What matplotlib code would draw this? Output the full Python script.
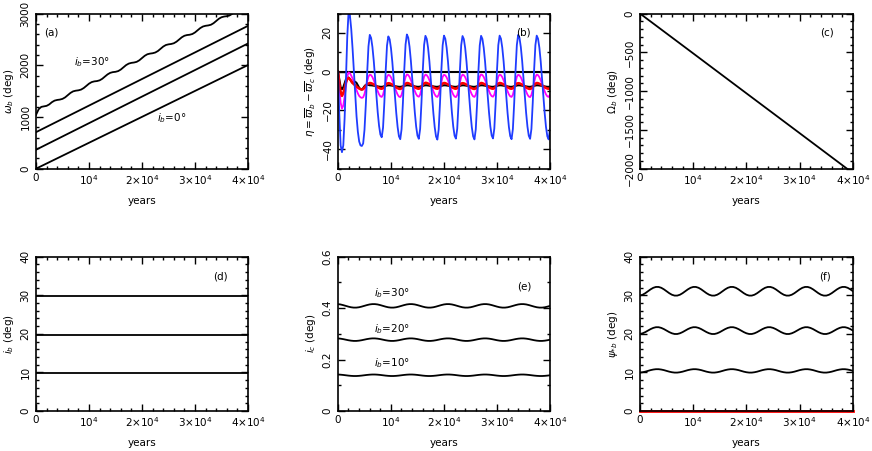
import numpy as np
import matplotlib
matplotlib.use('Agg')
import matplotlib.pyplot as plt
from matplotlib.ticker import MultipleLocator

plt.rcParams['font.family'] = ['DejaVu Sans']
plt.rcParams['mathtext.fontset'] = 'dejavusans'

# ---------------- time grids (years) ----------------
t_fine = np.arange(0, 40001, 250)
t_mid = np.arange(0, 40001, 500)
t_coarse = np.array([0, 10000, 20000, 30000, 40000])

# ---------------- panel (a): omega_b (deg) ----------------
omega_b_00 = [0, 501, 1002, 1503, 2004]
omega_b_10 = [366, 880, 1394, 1907, 2421]
omega_b_20 = [706, 1220, 1734, 2248, 2762]
omega_b_30 = [
    1040, 1150, 1195, 1205, 1215, 1243, 1286, 1316, 1329, 1336, 1350, 1379, 1422, 1465,
    1495, 1508, 1515, 1529, 1559, 1601, 1644, 1674, 1688, 1694, 1708, 1738, 1781, 1823,
    1853, 1867, 1873, 1887, 1917, 1960, 2003, 2032, 2046, 2053, 2066, 2096, 2139, 2182,
    2212, 2225, 2232, 2246, 2275, 2318, 2361, 2391, 2404, 2411, 2425, 2455, 2497, 2540,
    2570, 2584, 2590, 2604, 2634, 2677, 2719, 2749, 2763, 2770, 2783, 2813, 2856, 2899,
    2928, 2942, 2949, 2962, 2992, 3035, 3078, 3108, 3121, 3128, 3142]

# ---------------- panel (b): eta (deg) ----------------
eta_zero = [0, 0, 0, 0, 0]
eta_blue = [
    0, -22, -38, -41.5, -38, -24, -4, 18, 31, 29, 22, 12,
    0, -12, -23, -31, -36, -38, -38.3, -37, -30, -17, -1, 13,
    19, 17.4, 12.7, 5.6, -3.1, -12.3, -21.0, -27.9, -32.4, -33.8, -28.9, -15.8, 0.4, 13.5,
    18.2, 16.7, 12.1, 5.1, -3.5, -12.7, -21.4, -28.5, -33.3, -34.8, -29.6, -16.1, 0.6, 14.0,
    19.2, 17.6, 12.9, 5.7, -3.0, -12.3, -21.1, -28.3, -33.0, -34.6, -29.5, -16.0, 0.5, 13.8,
    18.5, 16.9, 12.3, 5.3, -3.3, -12.6, -21.4, -28.6, -33.4, -35.0, -29.8, -16.2, 0.4, 13.6,
    18.6, 17.0, 12.4, 5.4, -3.2, -12.4, -21.2, -28.3, -33.0, -34.5, -29.4, -16.0, 0.5, 13.7,
    18.4, 16.8, 12.2, 5.2, -3.4, -12.6, -21.4, -28.6, -33.3, -34.9, -29.7, -16.2, 0.4, 13.6,
    18.5, 16.9, 12.3, 5.3, -3.2, -12.4, -21.1, -28.2, -32.9, -34.4, -29.3, -15.9, 0.5, 13.7,
    18.6, 17.0, 12.4, 5.4, -3.3, -12.5, -21.3, -28.5, -33.2, -34.8, -29.6, -16.1, 0.5, 13.8,
    19.0, 17.4, 12.7, 5.6, -3.1, -12.4, -21.2, -28.3, -33.0, -34.6, -29.5, -16.0, 0.5, 13.7,
    18.6, 17.0, 12.4, 5.4, -3.3, -12.5, -21.3, -28.5, -33.3, -34.9, -29.7]
eta_magenta = [
    0, -8, -16, -19, -17.5, -13, -7.5, -2.5, -0.3, -0.8, -2, -3.5,
    -5.5, -7.5, -9.5, -11.2, -12.5, -13.2, -13.5, -13.2, -11.5, -8.5, -5, -2.5,
    -1.5, -1.8, -2.8, -4.4, -6.2, -8.2, -10.1, -11.7, -12.7, -13.0, -11.9, -9.0, -5.5, -2.6,
    -1.6, -1.9, -2.9, -4.5, -6.3, -8.3, -10.2, -11.8, -12.8, -13.1, -12.0, -9.1, -5.6, -2.7,
    -1.4, -1.7, -2.7, -4.3, -6.1, -8.1, -10.0, -11.6, -12.6, -12.9, -11.8, -8.9, -5.4, -2.5,
    -1.5, -1.8, -2.8, -4.4, -6.2, -8.2, -10.1, -11.7, -12.7, -13.0, -11.9, -9.0, -5.5, -2.6,
    -1.6, -1.9, -2.9, -4.5, -6.3, -8.3, -10.2, -11.8, -12.8, -13.1, -12.0, -9.1, -5.6, -2.7,
    -1.5, -1.8, -2.8, -4.4, -6.2, -8.2, -10.1, -11.7, -12.7, -13.0, -11.9, -9.0, -5.5, -2.6,
    -1.4, -1.7, -2.7, -4.3, -6.1, -8.1, -10.0, -11.6, -12.6, -12.9, -11.8, -8.9, -5.4, -2.5,
    -1.5, -1.8, -2.8, -4.4, -6.2, -8.2, -10.1, -11.7, -12.7, -13.0, -11.9, -9.0, -5.5, -2.6,
    -1.6, -1.9, -2.9, -4.5, -6.3, -8.3, -10.2, -11.8, -12.8, -13.1, -12.0, -9.1, -5.6, -2.7,
    -1.5, -1.8, -2.8, -4.4, -6.2, -8.2, -10.1, -11.7, -12.7, -13.0, -11.9]
eta_red = [
    0, -6, -10.5, -12.5, -11, -8.5, -5.5, -3.8, -3.3, -3.8, -4.8, -5.8,
    -6.5, -7.0, -7.6, -8.2, -8.7, -9.0, -9.2, -9.0, -8.2, -7.2, -6.5, -6.1,
    -5.8, -5.9, -6.2, -6.6, -7.0, -7.5, -8.0, -8.4, -8.7, -8.8, -8.5, -7.8, -6.9, -6.1,
    -5.9, -6.0, -6.3, -6.7, -7.1, -7.6, -8.1, -8.5, -8.8, -8.9, -8.6, -7.9, -7.0, -6.2,
    -5.8, -5.9, -6.2, -6.6, -7.0, -7.5, -8.0, -8.4, -8.7, -8.8, -8.5, -7.8, -6.9, -6.1,
    -5.7, -5.8, -6.1, -6.5, -7.0, -7.5, -8.0, -8.4, -8.7, -8.8, -8.5, -7.8, -6.9, -6.1,
    -5.8, -5.9, -6.2, -6.6, -7.0, -7.5, -8.0, -8.4, -8.7, -8.8, -8.5, -7.8, -6.9, -6.1,
    -5.9, -6.0, -6.3, -6.7, -7.1, -7.6, -8.1, -8.5, -8.8, -8.9, -8.6, -7.9, -7.0, -6.2,
    -5.8, -5.9, -6.2, -6.6, -7.0, -7.5, -8.0, -8.4, -8.7, -8.8, -8.5, -7.8, -6.9, -6.1,
    -5.8, -5.9, -6.2, -6.6, -7.0, -7.5, -8.0, -8.4, -8.7, -8.8, -8.5, -7.8, -6.9, -6.1,
    -5.9, -6.0, -6.3, -6.7, -7.1, -7.6, -8.1, -8.5, -8.8, -8.9, -8.6, -7.9, -7.0, -6.2,
    -5.8, -5.9, -6.2, -6.6, -7.0, -7.5, -8.0, -8.4, -8.7, -8.8, -8.5]
eta_black = [
    0, -4, -8, -9, -8, -6, -4, -3, -3, -3.8, -5, -5.8,
    -5.5, -5.2, -5.8, -7, -8.3, -9, -9.2, -8.5, -7.5, -6.8, -6.6, -6.8,
    -7.0, -7.0, -7.1, -7.2, -7.3, -7.4, -7.6, -7.7, -7.8, -7.8, -7.7, -7.5, -7.3, -7.1,
    -7.0, -7.0, -7.1, -7.2, -7.3, -7.4, -7.6, -7.7, -7.8, -7.8, -7.7, -7.5, -7.3, -7.1,
    -7.0, -7.0, -7.1, -7.2, -7.3, -7.4, -7.6, -7.7, -7.8, -7.8, -7.7, -7.5, -7.3, -7.1,
    -7.0, -7.0, -7.1, -7.2, -7.3, -7.4, -7.6, -7.7, -7.8, -7.8, -7.7, -7.5, -7.3, -7.1,
    -7.0, -7.0, -7.1, -7.2, -7.3, -7.4, -7.6, -7.7, -7.8, -7.8, -7.7, -7.5, -7.3, -7.1,
    -7.0, -7.0, -7.1, -7.2, -7.3, -7.4, -7.6, -7.7, -7.8, -7.8, -7.7, -7.5, -7.3, -7.1,
    -7.0, -7.0, -7.1, -7.2, -7.3, -7.4, -7.6, -7.7, -7.8, -7.8, -7.7, -7.5, -7.3, -7.1,
    -7.0, -7.0, -7.1, -7.2, -7.3, -7.4, -7.6, -7.7, -7.8, -7.8, -7.7, -7.5, -7.3, -7.1,
    -7.0, -7.0, -7.1, -7.2, -7.3, -7.4, -7.6, -7.7, -7.8, -7.8, -7.7, -7.5, -7.3, -7.1,
    -7.0, -7.0, -7.1, -7.2, -7.3, -7.4, -7.6, -7.7, -7.8, -7.8, -7.7]

# ---------------- panel (c): Omega_b (deg) ----------------
Omega_b = [0, -514, -1029, -1543, -2058]

# ---------------- panel (d): i_b (deg) ----------------
i_b_10 = [9.9, 9.9, 9.9, 9.9, 9.9]
i_b_20 = [19.8, 19.8, 19.8, 19.8, 19.8]
i_b_30 = [29.8, 29.8, 29.8, 29.8, 29.8]

# ---------------- panel (e): i_c (deg) ----------------
i_c_30 = [
    0.4158, 0.4145, 0.4120, 0.4090, 0.4060, 0.4035, 0.4022, 0.4022, 0.4035, 0.4060, 0.4090, 0.4120, 0.4145, 0.4158,
    0.4158, 0.4145, 0.4120, 0.4090, 0.4060, 0.4035, 0.4022, 0.4022, 0.4035, 0.4060, 0.4090, 0.4120, 0.4145, 0.4158,
    0.4158, 0.4145, 0.4120, 0.4090, 0.4060, 0.4035, 0.4022, 0.4022, 0.4035, 0.4060, 0.4090, 0.4120, 0.4145, 0.4158,
    0.4158, 0.4145, 0.4120, 0.4090, 0.4060, 0.4035, 0.4022, 0.4022, 0.4035, 0.4060, 0.4090, 0.4120, 0.4145, 0.4158,
    0.4158, 0.4145, 0.4120, 0.4090, 0.4060, 0.4035, 0.4022, 0.4022, 0.4035, 0.4060, 0.4090, 0.4120, 0.4145, 0.4158,
    0.4158, 0.4145, 0.4120, 0.4090, 0.4060, 0.4035, 0.4022, 0.4022, 0.4035, 0.4060, 0.4090]
i_c_20 = [
    0.2824, 0.2814, 0.2797, 0.2775, 0.2753, 0.2736, 0.2726, 0.2726, 0.2736, 0.2753, 0.2775, 0.2797, 0.2814, 0.2824,
    0.2824, 0.2814, 0.2797, 0.2775, 0.2753, 0.2736, 0.2726, 0.2726, 0.2736, 0.2753, 0.2775, 0.2797, 0.2814, 0.2824,
    0.2824, 0.2814, 0.2797, 0.2775, 0.2753, 0.2736, 0.2726, 0.2726, 0.2736, 0.2753, 0.2775, 0.2797, 0.2814, 0.2824,
    0.2824, 0.2814, 0.2797, 0.2775, 0.2753, 0.2736, 0.2726, 0.2726, 0.2736, 0.2753, 0.2775, 0.2797, 0.2814, 0.2824,
    0.2824, 0.2814, 0.2797, 0.2775, 0.2753, 0.2736, 0.2726, 0.2726, 0.2736, 0.2753, 0.2775, 0.2797, 0.2814, 0.2824,
    0.2824, 0.2814, 0.2797, 0.2775, 0.2753, 0.2736, 0.2726, 0.2726, 0.2736, 0.2753, 0.2775]
i_c_10 = [
    0.1419, 0.1413, 0.1403, 0.1390, 0.1377, 0.1367, 0.1361, 0.1361, 0.1367, 0.1377, 0.1390, 0.1403, 0.1413, 0.1419,
    0.1419, 0.1413, 0.1403, 0.1390, 0.1377, 0.1367, 0.1361, 0.1361, 0.1367, 0.1377, 0.1390, 0.1403, 0.1413, 0.1419,
    0.1419, 0.1413, 0.1403, 0.1390, 0.1377, 0.1367, 0.1361, 0.1361, 0.1367, 0.1377, 0.1390, 0.1403, 0.1413, 0.1419,
    0.1419, 0.1413, 0.1403, 0.1390, 0.1377, 0.1367, 0.1361, 0.1361, 0.1367, 0.1377, 0.1390, 0.1403, 0.1413, 0.1419,
    0.1419, 0.1413, 0.1403, 0.1390, 0.1377, 0.1367, 0.1361, 0.1361, 0.1367, 0.1377, 0.1390, 0.1403, 0.1413, 0.1419,
    0.1419, 0.1413, 0.1403, 0.1390, 0.1377, 0.1367, 0.1361, 0.1361, 0.1367, 0.1377, 0.1390]

# ---------------- panel (f): psi_*b (deg) ----------------
psi_00 = [0, 0, 0, 0, 0]
psi_30 = [
    29.93, 30.15, 30.55, 31.05, 31.55, 31.95, 32.17, 32.17, 31.95, 31.55, 31.05, 30.55, 30.15, 29.93,
    29.93, 30.15, 30.55, 31.05, 31.55, 31.95, 32.17, 32.17, 31.95, 31.55, 31.05, 30.55, 30.15, 29.93,
    29.93, 30.15, 30.55, 31.05, 31.55, 31.95, 32.17, 32.17, 31.95, 31.55, 31.05, 30.55, 30.15, 29.93,
    29.93, 30.15, 30.55, 31.05, 31.55, 31.95, 32.17, 32.17, 31.95, 31.55, 31.05, 30.55, 30.15, 29.93,
    29.93, 30.15, 30.55, 31.05, 31.55, 31.95, 32.17, 32.17, 31.95, 31.55, 31.05, 30.55, 30.15, 29.93,
    29.93, 30.15, 30.55, 31.05, 31.55, 31.95, 32.17, 32.17, 31.95, 31.55, 31.05]
psi_20 = [
    19.97, 20.15, 20.46, 20.85, 21.24, 21.55, 21.73, 21.73, 21.55, 21.24, 20.85, 20.46, 20.15, 19.97,
    19.97, 20.15, 20.46, 20.85, 21.24, 21.55, 21.73, 21.73, 21.55, 21.24, 20.85, 20.46, 20.15, 19.97,
    19.97, 20.15, 20.46, 20.85, 21.24, 21.55, 21.73, 21.73, 21.55, 21.24, 20.85, 20.46, 20.15, 19.97,
    19.97, 20.15, 20.46, 20.85, 21.24, 21.55, 21.73, 21.73, 21.55, 21.24, 20.85, 20.46, 20.15, 19.97,
    19.97, 20.15, 20.46, 20.85, 21.24, 21.55, 21.73, 21.73, 21.55, 21.24, 20.85, 20.46, 20.15, 19.97,
    19.97, 20.15, 20.46, 20.85, 21.24, 21.55, 21.73, 21.73, 21.55, 21.24, 20.85]
psi_10 = [
    9.96, 10.05, 10.20, 10.40, 10.60, 10.75, 10.84, 10.84, 10.75, 10.60, 10.40, 10.20, 10.05, 9.96,
    9.96, 10.05, 10.20, 10.40, 10.60, 10.75, 10.84, 10.84, 10.75, 10.60, 10.40, 10.20, 10.05, 9.96,
    9.96, 10.05, 10.20, 10.40, 10.60, 10.75, 10.84, 10.84, 10.75, 10.60, 10.40, 10.20, 10.05, 9.96,
    9.96, 10.05, 10.20, 10.40, 10.60, 10.75, 10.84, 10.84, 10.75, 10.60, 10.40, 10.20, 10.05, 9.96,
    9.96, 10.05, 10.20, 10.40, 10.60, 10.75, 10.84, 10.84, 10.75, 10.60, 10.40, 10.20, 10.05, 9.96,
    9.96, 10.05, 10.20, 10.40, 10.60, 10.75, 10.84, 10.84, 10.75, 10.60, 10.40]

x_ticks = [0, 10000, 20000, 30000, 40000]
x_ticklabels = ['0', r'$10^4$', r'$2{\times}10^4$', r'$3{\times}10^4$', r'$4{\times}10^4$']

FS = 7.5
LW = 1.3

fig = plt.figure(figsize=(8.72, 4.51), dpi=100)


def make_ax(rect, ylim, ymaj, ymin, yticklabels, ylabel, panel, plx, ply):
    ax = fig.add_axes(rect)
    ax.set_xlim(0, 40000)
    ax.set_ylim(*ylim)
    ax.set_xticks(x_ticks)
    ax.set_xticklabels(x_ticklabels)
    ax.xaxis.set_minor_locator(MultipleLocator(2000))
    yt = [float(v) for v in yticklabels[0]]
    ax.set_yticks(yt)
    ax.set_yticklabels(yticklabels[1], rotation=90, va='center')
    ax.yaxis.set_minor_locator(MultipleLocator(ymin))
    ax.tick_params(which='both', direction='in', top=True, right=True,
                   width=1.0, labelsize=FS, pad=3)
    ax.tick_params(which='major', length=5)
    ax.tick_params(which='minor', length=2.5)
    ax.tick_params(axis='y', pad=4)
    for s in ax.spines.values():
        s.set_linewidth(1.2)
    ax.set_xlabel('years', fontsize=FS, labelpad=6.5)
    ax.set_ylabel(ylabel, fontsize=FS, labelpad=3)
    ax.text(plx, ply, panel, transform=ax.transAxes, fontsize=FS,
            ha='left', va='center')
    return ax


top_b, top_h = 0.626, 0.344
bot_b, bot_h = 0.0887, 0.342

# (a)
ax = make_ax([0.0413, top_b, 0.2431, top_h], (0, 3000), 1000, 200,
             ([0, 1000, 2000, 3000], ['0', '1000', '2000', '3000']),
             r'$\omega_b$ (deg)', '(a)', 0.04, 0.875)
ax.plot(t_coarse, omega_b_00, color='k', lw=LW)
ax.plot(t_coarse, omega_b_10, color='k', lw=LW)
ax.plot(t_coarse, omega_b_20, color='k', lw=LW)
ax.plot(t_mid, omega_b_30, color='k', lw=LW)
ax.text(7100, 2067, r'$i_b$=30°', fontsize=FS, ha='left', va='center')
ax.text(22800, 977, r'$i_b$=0°', fontsize=FS, ha='left', va='center')

# (b)
ax = make_ax([0.3876, top_b, 0.2431, top_h], (-50, 30), 20, 10,
             ([-40, -20, 0, 20], ['\u221240', '\u221220', '0', '20']),
             r'$\eta=\overline{\varpi}_b-\overline{\varpi}_c$ (deg)', '(b)', 0.84, 0.88)
ax.plot(t_coarse, eta_zero, color='k', lw=1.5)
ax.plot(t_fine, eta_black, color='k', lw=1.5)
ax.plot(t_fine, eta_magenta, color='#ff00ff', lw=1.3)
ax.plot(t_fine, eta_red, color='#ff0000', lw=1.8)
ax.plot(t_fine, eta_blue, color='#1f3cff', lw=1.3)

# (c)
ax = make_ax([0.7339, top_b, 0.2443, top_h], (-2000, 0), 500, 100,
             ([-2000, -1500, -1000, -500, 0],
              ['\u22122000', '\u22121500', '\u22121000', '\u2212500', '0']),
             r'$\Omega_b$ (deg)', '(c)', 0.845, 0.88)
ax.plot(t_coarse, Omega_b, color='k', lw=LW)

# (d)
ax = make_ax([0.0413, bot_b, 0.2431, bot_h], (0, 40), 10, 2,
             ([0, 10, 20, 30, 40], ['0', '10', '20', '30', '40']),
             r'$i_b$ (deg)', '(d)', 0.835, 0.87)
ax.plot(t_coarse, i_b_10, color='k', lw=LW)
ax.plot(t_coarse, i_b_20, color='k', lw=LW)
ax.plot(t_coarse, i_b_30, color='k', lw=LW)

# (e)
ax = make_ax([0.3873, bot_b, 0.2436, bot_h], (0, 0.6), 0.2, 0.1,
             ([0, 0.2, 0.4, 0.6], ['0', '0.2', '0.4', '0.6']),
             r'$i_c$ (deg)', '(e)', 0.843, 0.81)
ax.plot(t_mid, i_c_10, color='k', lw=LW)
ax.plot(t_mid, i_c_20, color='k', lw=LW)
ax.plot(t_mid, i_c_30, color='k', lw=LW)
ax.text(6900, 0.459, r'$i_b$=30°', fontsize=FS, ha='left', va='center')
ax.text(6900, 0.320, r'$i_b$=20°', fontsize=FS, ha='left', va='center')
ax.text(6900, 0.186, r'$i_b$=10°', fontsize=FS, ha='left', va='center')

# (f)
ax = make_ax([0.7339, bot_b, 0.2443, bot_h], (0, 40), 10, 2,
             ([0, 10, 20, 30, 40], ['0', '10', '20', '30', '40']),
             r'$\psi_{*b}$ (deg)', '(f)', 0.84, 0.87)
ax.plot(t_mid, psi_10, color='k', lw=LW)
ax.plot(t_mid, psi_20, color='k', lw=LW)
ax.plot(t_mid, psi_30, color='k', lw=LW)
ax.plot(t_coarse, psi_00, color='#ff0000', lw=2.0, clip_on=False)

fig.savefig('out.png', dpi=100)
